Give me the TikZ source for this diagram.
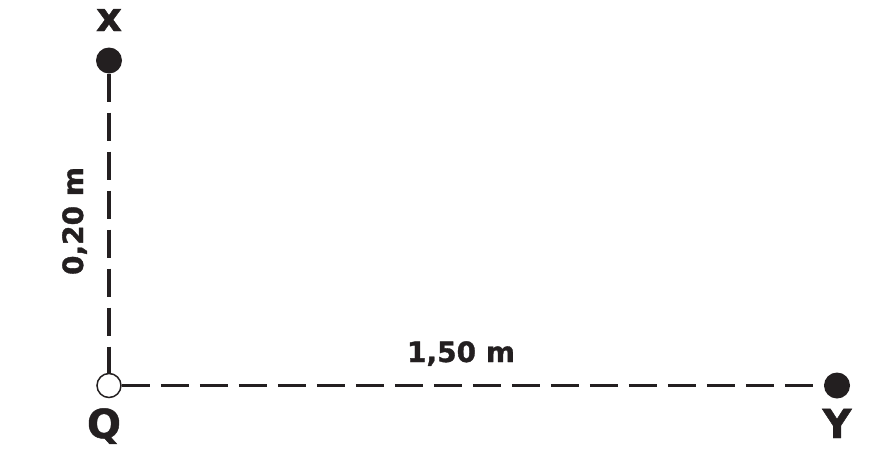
\documentclass[tikz,border=0pt]{standalone}
\usepackage{fontspec}
\setmainfont{DejaVu Sans}
\newfontfamily\heavy{DejaVu Sans Bold}[FakeBold=1.2]
\definecolor{ink}{HTML}{231F20}
\begin{document}
\begin{tikzpicture}[x=1pt,y=-1pt,
  dotfull/.style={circle,fill=ink,draw=none,minimum size=26pt,inner sep=0pt},
  dotopen/.style={circle,fill=white,draw=ink,line width=1.5pt,minimum size=24pt,inner sep=0pt},
  dimline/.style={draw=ink,line width=3.2pt,dash pattern=on 28pt off 11pt},
  letter/.style={anchor=base,text=ink,inner sep=0pt,font=\fontsize{40}{48}\heavy},
  measure/.style={anchor=base,text=ink,inner sep=0pt,font=\fontsize{28}{34}\heavy}]
\useasboundingbox (0,0) rectangle (873,456);
\node[dotfull] (X) at (109,60.5) {};
\node[dotopen] (Q) at (109,385.5) {};
\node[dotfull] (Y) at (837,385.5) {};
\draw[dimline] (X) -- (Q);
\draw[dimline] (Q) -- (Y);
\node[letter] (lx) at (109,31) {x};
\node[letter] (lq) at (104,438) {Q};
\node[letter] (ly) at (837,438) {Y};
\node[measure] (m1) at (461,362) {1,50 m};
\node[measure,rotate=90] (m2) at (83,221) {0,20 m};
\end{tikzpicture}
\end{document}
